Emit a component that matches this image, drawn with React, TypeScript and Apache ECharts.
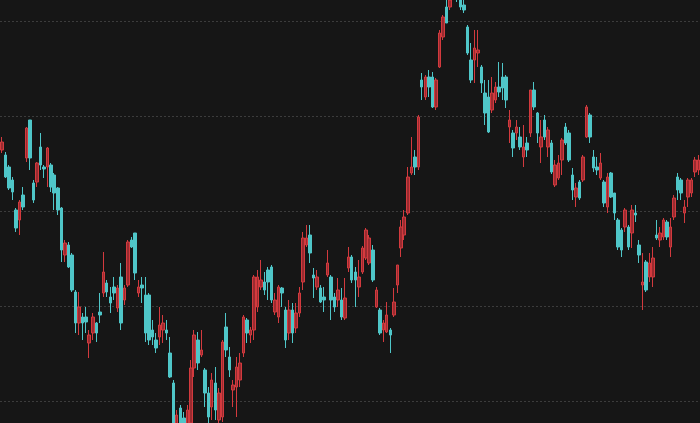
import React, { useEffect, useRef } from "react";
import * as echarts from "echarts";

// Each candle: [open, close, low, high]
const candles: number[][] = [
  [346, 354, 343, 359], [341, 319, 318, 344], [329, 308, 306, 331], [316, 304, 296, 319], [286, 268, 264, 288],
  [276, 294, 261, 296], [301, 289, 286, 309], [338, 368, 334, 369], [376, 338, 326, 376], [313, 296, 293, 316],
  [314, 333, 309, 334], [349, 331, 326, 363], [329, 327, 318, 331], [329, 348, 309, 349], [331, 309, 304, 333],
  [321, 303, 286, 323], [308, 286, 281, 309], [288, 246, 234, 289], [241, 253, 234, 256], [251, 229, 228, 254],
  [241, 206, 204, 243], [204, 173, 163, 206], [173, 189, 161, 204], [179, 173, 156, 183], [179, 174, 163, 189],
  [153, 161, 138, 166], [163, 179, 156, 183], [173, 163, 154, 174], [184, 181, 173, 203], [203, 224, 199, 244],
  [213, 204, 199, 216], [199, 193, 183, 209], [209, 203, 196, 219], [188, 208, 184, 211], [219, 173, 166, 233],
  [196, 208, 191, 211], [211, 254, 209, 256], [256, 249, 248, 259], [263, 223, 216, 263], [203, 209, 199, 216],
  [211, 208, 193, 219], [201, 163, 154, 219], [201, 156, 151, 203], [166, 159, 151, 176], [156, 148, 143, 163],
  [159, 171, 151, 189], [166, 173, 153, 181], [166, 163, 156, 176], [143, 119, 118, 159], [113, 71, 68, 116],
  [71, 81, 64, 86], [88, 71, 66, 91], [78, 68, 64, 84], [72, 86, 68, 91], [73, 128, 68, 136],
  [128, 161, 119, 166], [156, 133, 126, 164], [141, 146, 139, 166], [126, 103, 89, 128], [103, 79, 73, 109],
  [89, 116, 76, 123], [113, 86, 76, 129], [76, 103, 71, 108], [79, 154, 74, 156], [169, 146, 139, 183],
  [139, 126, 119, 149], [106, 111, 89, 116], [109, 129, 79, 139], [116, 133, 109, 143], [143, 179, 139, 181],
  [176, 163, 153, 178], [161, 166, 153, 169], [166, 219, 156, 221], [189, 219, 184, 226], [209, 216, 206, 236],
  [214, 206, 201, 224], [226, 214, 196, 229], [229, 196, 193, 231], [184, 196, 181, 203], [179, 209, 173, 211],
  [208, 203, 189, 209], [186, 156, 148, 189], [163, 186, 156, 196], [186, 163, 153, 193], [168, 183, 163, 193],
  [183, 203, 179, 209], [214, 258, 206, 264], [251, 258, 249, 271], [261, 243, 233, 271], [221, 218, 198, 228],
  [209, 219, 206, 226], [208, 194, 193, 211], [199, 196, 184, 209], [221, 233, 219, 246], [219, 196, 176, 221],
  [199, 189, 184, 203], [196, 206, 189, 218], [196, 179, 176, 208], [178, 198, 176, 218], [228, 239, 224, 249],
  [239, 216, 213, 241], [224, 216, 189, 229], [209, 219, 199, 236], [224, 248, 222, 250], [238, 266, 236, 268],
  [233, 258, 231, 261], [246, 216, 214, 251], [189, 206, 188, 209], [186, 163, 161, 188], [166, 173, 154, 176],
  [164, 181, 163, 194], [166, 161, 143, 168], [181, 194, 179, 208], [211, 231, 203, 231], [248, 269, 239, 276],
  [261, 279, 256, 286], [283, 319, 281, 329], [323, 329, 321, 359], [339, 329, 321, 346], [329, 379, 326, 381],
  [416, 409, 396, 423], [399, 419, 396, 421], [419, 409, 399, 426], [419, 389, 388, 424], [389, 416, 386, 418],
  [429, 463, 428, 466], [459, 479, 456, 481], [489, 473, 473, 498], [489, 496, 486, 501], [498, 508, 496, 511],
  [506, 498, 494, 510], [499, 489, 486, 502], [491, 486, 483, 496], [469, 443, 441, 471], [436, 416, 413, 453],
  [436, 448, 413, 466], [443, 446, 429, 466], [429, 413, 403, 431], [403, 383, 371, 416], [399, 364, 363, 416],
  [386, 403, 383, 419], [396, 409, 393, 414], [409, 404, 399, 434], [419, 408, 396, 433], [419, 396, 388, 421],
  [369, 376, 353, 386], [363, 348, 339, 366], [363, 369, 356, 376], [359, 349, 346, 369], [339, 349, 329, 371],
  [353, 346, 339, 359], [363, 406, 359, 406], [406, 389, 386, 414], [383, 363, 353, 384], [349, 359, 333, 376],
  [376, 359, 356, 381], [349, 366, 339, 369], [353, 324, 322, 356], [311, 331, 309, 336], [318, 333, 316, 341],
  [336, 356, 321, 358], [369, 353, 351, 373], [363, 336, 334, 366], [321, 306, 296, 328], [299, 308, 289, 313],
  [314, 298, 296, 316], [316, 339, 314, 341], [359, 389, 358, 391], [381, 359, 353, 383], [339, 328, 324, 346],
  [329, 326, 321, 339], [318, 333, 316, 343], [314, 293, 289, 316], [289, 319, 283, 323], [323, 299, 298, 324],
  [303, 283, 276, 303], [276, 249, 246, 278], [266, 246, 239, 268], [269, 286, 264, 288], [269, 249, 246, 271],
  [263, 286, 248, 291], [283, 281, 274, 291], [251, 241, 233, 256], [211, 214, 186, 243], [234, 206, 204, 236],
  [219, 233, 214, 243], [219, 238, 209, 249], [261, 258, 256, 276], [256, 263, 249, 269], [259, 276, 256, 278],
  [274, 259, 256, 276], [249, 269, 239, 278], [279, 298, 276, 301], [319, 306, 296, 323], [316, 303, 296, 318],
  [283, 289, 273, 296], [299, 316, 289, 318], [303, 316, 299, 318], [324, 336, 319, 339], [326, 336, 321, 341],
];

const categories: string[] = candles.map((_, i) => String(i + 1));

const yMin = 95;
const yMax = 475;
const yInterval = 95;

const UP_BORDER = "#d33a3e";
const UP_FILL = "#9a2b30";
const DOWN_COLOR = "#4fc6c8";
const BG = "#161616";

export default function App() {
  const ref = useRef<HTMLDivElement>(null);

  useEffect(() => {
    if (!ref.current) return;
    const chart = echarts.init(ref.current, undefined, { renderer: "svg" });
    chart.setOption({
      animation: false,
      backgroundColor: BG,
      grid: { left: 0, right: 0, top: 21, bottom: 22 },
      xAxis: {
        type: "category",
        data: categories,
        boundaryGap: true,
        axisLine: { show: false },
        axisTick: { show: false },
        axisLabel: { show: false },
        splitLine: { show: false },
      },
      yAxis: {
        type: "value",
        min: yMin,
        max: yMax,
        interval: yInterval,
        axisLine: { show: false },
        axisTick: { show: false },
        axisLabel: { show: false },
        splitLine: {
          show: true,
          lineStyle: { color: "#3c3c3c", type: [2, 2], width: 1 },
        },
      },
      series: [
        {
          type: "candlestick",
          data: candles,
          clip: false,
          barWidth: 3,
          itemStyle: {
            color: UP_FILL,
            borderColor: UP_BORDER,
            color0: DOWN_COLOR,
            borderColor0: DOWN_COLOR,
            borderWidth: 1,
          },
        },
      ],
    });
    return () => chart.dispose();
  }, []);

  return (
    <div
      ref={ref}
      style={{ position: "absolute", left: 0, top: 0, width: 700, height: 423 }}
    />
  );
}
